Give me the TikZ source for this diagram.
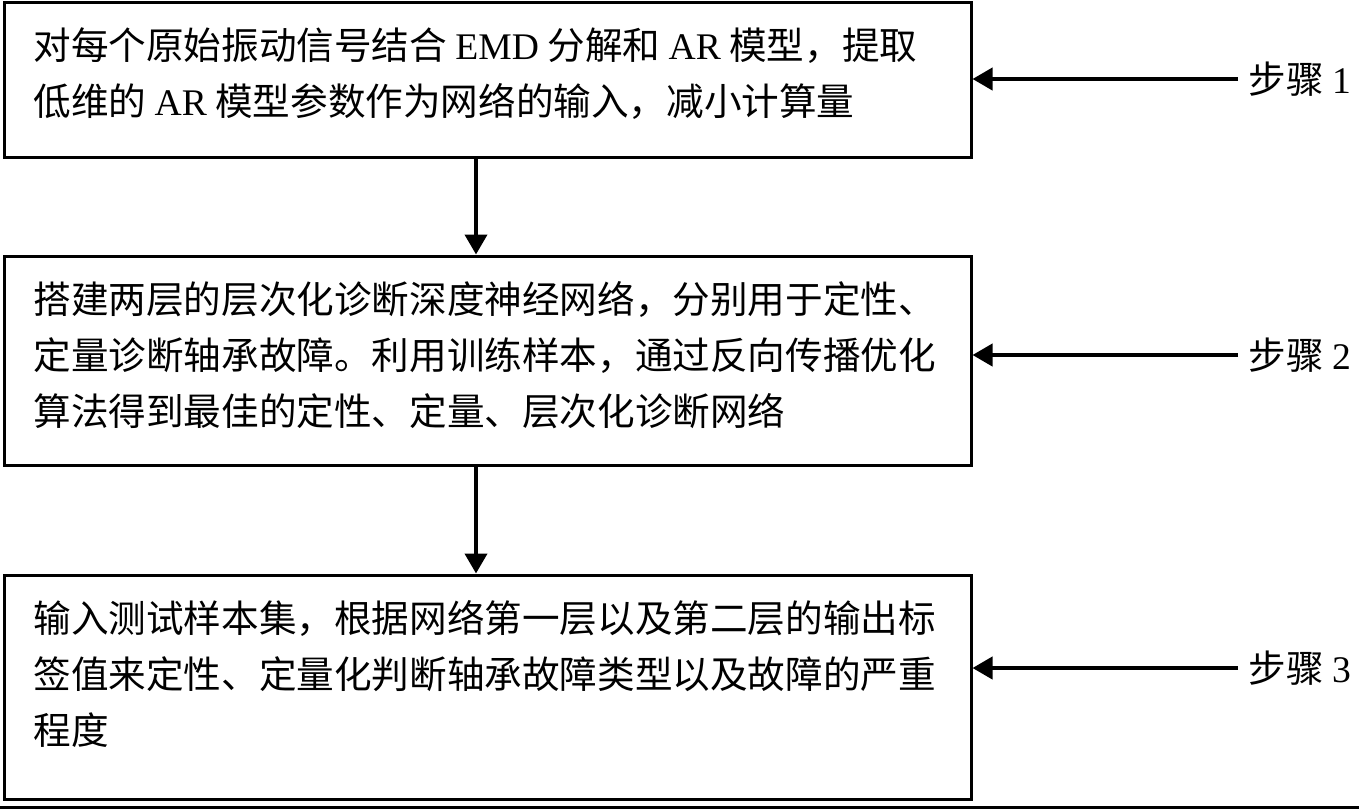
\documentclass[tikz,border=0pt]{standalone}
\usepackage{fontspec}
\setmainfont{Liberation Serif}
\newfontfamily\cjk{Noto Sans CJK SC}
\newcommand{\en}[1]{{\rmfamily #1}}
\usetikzlibrary{arrows.meta}
\tikzset{
    stepbox/.style={draw, line width=1.5pt, rectangle, inner sep=0pt},
    steptext/.style={anchor=north west, align=left, inner sep=0pt, font=\cjk\fontsize{18.8}{28}\selectfont},
    steplabel/.style={anchor=west, inner sep=0pt, font=\cjk\fontsize{18.8}{28}\selectfont},
    flowarrow/.style={line width=2pt, -{Triangle[length=10pt,width=11pt]}}
}
\begin{document}
\begin{tikzpicture}[x=0.5pt, y=-0.5pt]
    \useasboundingbox (0,0) rectangle (1359,809);

    % Step 1: feature extraction
    \node[stepbox, minimum width=483.5pt, minimum height=77.5pt] (emd) at (487.5,79.5) {};
    \node[steptext] (emdtext) at (33,27) {对每个原始振动信号结合 \en{EMD} 分解和 \en{AR} 模型，提取\\
        低维的 \en{AR} 模型参数作为网络的输入，减小计算量};

    % Step 2: hierarchical network
    \node[stepbox, minimum width=483.5pt, minimum height=104.5pt] (dnn) at (487.5,360.5) {};
    \node[steptext] (dnntext) at (33,281) {搭建两层的层次化诊断深度神经网络，分别用于定性、\\
        定量诊断轴承故障。利用训练样本，通过反向传播优化\\
        算法得到最佳的定性、定量、层次化诊断网络};

    % Step 3: testing
    \node[stepbox, minimum width=483.5pt, minimum height=112pt] (test) at (487.5,687) {};
    \node[steptext] (testtext) at (33,600) {输入测试样本集，根据网络第一层以及第二层的输出标\\
        签值来定性、定量化判断轴承故障类型以及故障的严重\\
        程度};

    % Flow between steps
    \draw[flowarrow] ([xshift=-5.75pt]emd.south) -- ([xshift=-5.75pt]dnn.north);
    \draw[flowarrow] ([xshift=-5.75pt]dnn.south) -- ([xshift=-5.75pt]test.north);

    % Step labels
    \node[steplabel] (lab1) at (1248,79) {步骤 \en{1}};
    \node[steplabel] (lab2) at (1248,355) {步骤 \en{2}};
    \node[steplabel] (lab3) at (1248,668) {步骤 \en{3}};
    \draw[flowarrow] ([xshift=-5pt]lab1.west) -- (emd.east |- lab1.west);
    \draw[flowarrow] ([xshift=-5pt]lab2.west) -- (dnn.east |- lab2.west);
    \draw[flowarrow] ([xshift=-5pt]lab3.west) -- (test.east |- lab3.west);

    % Bottom rule
    \draw[line width=1.5pt] (0,807) -- (1359,807);
\end{tikzpicture}
\end{document}
